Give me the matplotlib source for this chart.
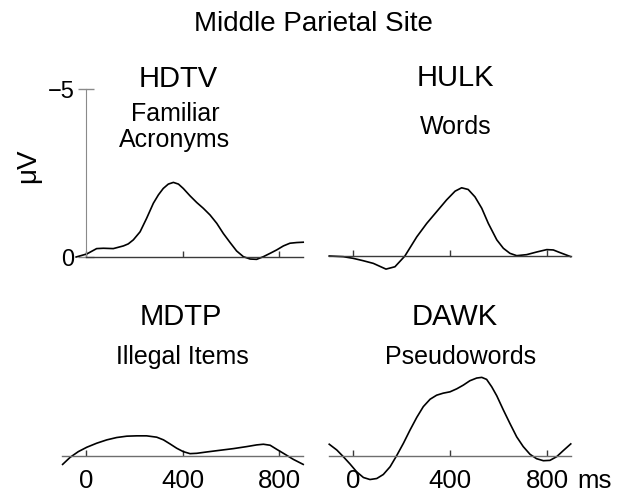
import matplotlib
matplotlib.use("Agg")
import matplotlib.pyplot as plt

plt.rcParams['font.family'] = ['Liberation Sans', 'DejaVu Sans']

# ERP waveforms, time in ms, amplitude in microvolts (negative plotted up)
hdtv_t = [-41, 3, 44, 72, 113, 155, 175, 196, 224, 251, 279, 300, 320, 341, 362, 383, 403,
          431, 459, 486, 514, 542, 569, 597, 624, 652, 680, 707, 735, 763, 790, 818, 845, 873, 900]
hdtv_v = [0.0, -0.09, -0.25, -0.26, -0.25, -0.33, -0.39, -0.51, -0.75, -1.15, -1.60, -1.85, -2.04,
          -2.17, -2.22, -2.17, -2.04, -1.82, -1.62, -1.45, -1.25, -1.0, -0.70, -0.43, -0.18, -0.01,
          0.06, 0.07, -0.01, -0.11, -0.21, -0.33, -0.41, -0.43, -0.44]

hulk_t = [-98, -40, 1, 42, 84, 136, 173, 214, 263, 304, 345, 386, 421, 448, 475, 503, 531, 558,
          593, 620, 647, 675, 716, 758, 799, 826, 854, 898]
hulk_v = [0.0, 0.02, 0.07, 0.14, 0.22, 0.39, 0.32, 0.0, -0.57, -0.97, -1.32, -1.67, -1.93, -2.03,
          -1.98, -1.76, -1.42, -0.97, -0.48, -0.23, -0.08, -0.01, -0.04, -0.12, -0.19, -0.18, -0.10, 0.02]

mdtp_t = [-97, -66, -32, 3, 44, 86, 127, 169, 210, 251, 293, 321, 348, 376, 403, 431, 459, 500,
          555, 611, 666, 707, 735, 763, 790, 818, 859, 900]
mdtp_v = [0.25, 0.04, -0.13, -0.26, -0.38, -0.48, -0.55, -0.59, -0.60, -0.60, -0.56, -0.48, -0.36,
          -0.23, -0.13, -0.07, -0.08, -0.12, -0.17, -0.22, -0.28, -0.33, -0.35, -0.32, -0.20, -0.08,
          0.10, 0.25]

dawk_t = [-98, -67, -40, -12, 15, 43, 70, 98, 125, 153, 180, 208, 235, 263, 290, 318, 345, 372,
          400, 428, 455, 482, 510, 531, 551, 572, 593, 620, 647, 675, 702, 730, 757, 785, 812, 840,
          867, 898]
dawk_v = [-0.35, -0.18, 0.02, 0.24, 0.47, 0.64, 0.70, 0.67, 0.55, 0.32, -0.01, -0.38, -0.77, -1.15,
          -1.47, -1.69, -1.81, -1.87, -1.91, -2.00, -2.11, -2.24, -2.32, -2.34, -2.28, -2.06, -1.79,
          -1.37, -0.97, -0.57, -0.28, -0.05, 0.08, 0.14, 0.13, 0.02, -0.16, -0.36]

titles = ["HDTV", "HULK", "MDTP", "DAWK"]
subtitles = ["Familiar\nAcronyms", "Words", "Illegal Items", "Pseudowords"]
xticks = [0, 400, 800]

W, H = 618, 494
fig = plt.figure(figsize=(W / 100, H / 100), dpi=100)


def px_axes(left, right, top, bottom):
    return fig.add_axes([left / W, 1 - bottom / H, (right - left) / W, (bottom - top) / H])


scale = 33.6  # px per microvolt
panels = [
    (61.9, 303.2, 257, hdtv_t, hdtv_v, 0),
    (328.75, 571.25, 256, hulk_t, hulk_v, -100),
    (61.9, 303.2, 456, mdtp_t, mdtp_v, -100),
    (328.75, 571.25, 456, dawk_t, dawk_v, -100),
]

for i, (l, r, zero, t, v, xstart) in enumerate(panels):
    ax = px_axes(l, r, zero - 5.5 * scale, zero + 1.0 * scale)
    ax.set_xlim(-100, 900)
    ax.set_ylim(1.0, -5.5)
    ax.patch.set_visible(False)
    ax.plot(t, v, color='black', lw=1.2, clip_on=False)
    for s in ['top', 'right']:
        ax.spines[s].set_visible(False)
    ax.spines['bottom'].set_position(('data', 0))
    ax.spines['bottom'].set_bounds(xstart, 900)
    ax.spines['bottom'].set_color('#6e6e6e' if i >= 2 else '#3a3a3a')
    ax.spines['bottom'].set_linewidth(1.0)
    ax.set_xticks(xticks)
    ax.tick_params(axis='x', direction='in', length=4, width=1, color='#3a3a3a',
                   pad=9, labelsize=18.5, labelbottom=(i >= 2))
    if i == 0:
        ax.spines['left'].set_position(('data', 0))
        ax.spines['left'].set_bounds(-5, 0)
        ax.spines['left'].set_color('#8a8a8a')
        ax.set_yticks([-5, 0])
        ax.set_yticklabels(['\u22125', '0'])
        ax.tick_params(axis='y', direction='inout', length=11, width=1, color='#8a8a8a',
                       pad=3, labelsize=17)
    else:
        ax.spines['left'].set_visible(False)
        ax.set_yticks([])

# panel labels
head_pos = [(178, 79), (455, 78), (181, 317), (455, 317)]
sub_pos = [(175, 127), (456, 127), (182, 357), (461, 357)]
for (hx, hy), (sx, sy), ttl, sub in zip(head_pos, sub_pos, titles, subtitles):
    fig.text(hx / W, 1 - hy / H, ttl, fontsize=21, ha='center', va='center')
    fig.text(sx / W, 1 - sy / H, sub, fontsize=18, ha='center', va='center',
             linespacing=1.1)

fig.text(313 / W, 1 - 24 / H, "Middle Parietal Site", fontsize=20, ha='center', va='center')
fig.text(28 / W, 1 - 166 / H, "\u03bcV", fontsize=20, rotation=90, ha='center', va='center')
fig.text(577 / W, 1 - 488 / H, "ms", fontsize=18.5, ha='left', va='baseline')

fig.savefig("out.png", dpi=100)
